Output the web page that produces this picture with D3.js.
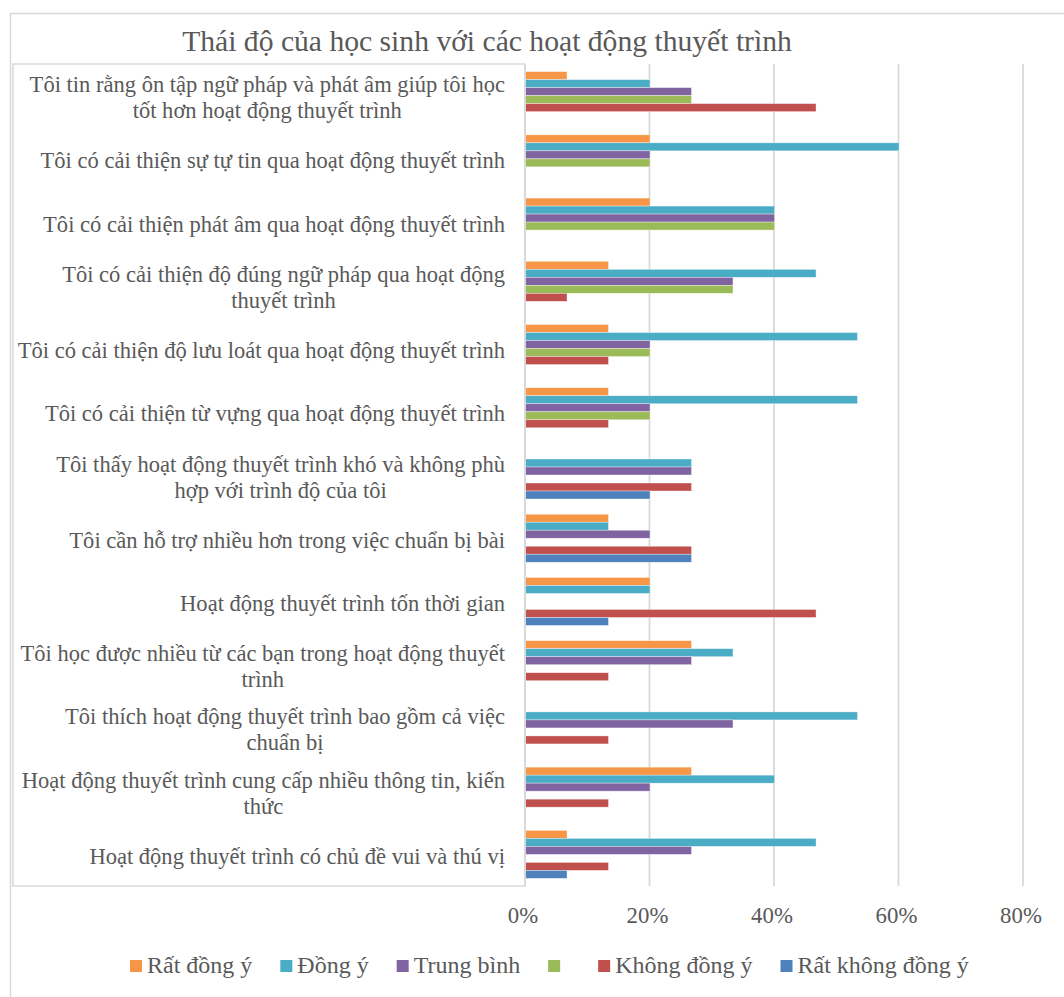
<!DOCTYPE html>
<html><head><meta charset="utf-8">
<script src="https://cdn.jsdelivr.net/npm/d3@7"></script>
<style>body{margin:0;background:#fff}svg{display:block}text{font-family:"Liberation Serif","Times New Roman",serif;fill:#595959}</style>
</head><body><svg id="c" width="1064" height="997"></svg>
<script>
const categories = [
  "Tôi tin rằng ôn tập ngữ pháp và phát âm giúp tôi học\ntốt hơn hoạt động thuyết trình",
  "Tôi có cải thiện sự tự tin qua hoạt động thuyết trình",
  "Tôi có cải thiện phát âm qua hoạt động thuyết trình",
  "Tôi có cải thiện độ đúng ngữ pháp qua hoạt động\nthuyết trình",
  "Tôi có cải thiện độ lưu loát qua hoạt động thuyết trình",
  "Tôi có cải thiện từ vựng qua hoạt động thuyết trình",
  "Tôi thấy hoạt động thuyết trình khó và không phù\nhợp với trình độ của tôi",
  "Tôi cần hỗ trợ nhiều hơn trong việc chuẩn bị bài",
  "Hoạt động thuyết trình tốn thời gian",
  "Tôi học được nhiều từ các bạn trong hoạt động thuyết\ntrình",
  "Tôi thích hoạt động thuyết trình bao gồm cả việc\nchuẩn bị",
  "Hoạt động thuyết trình cung cấp nhiều thông tin, kiến\nthức",
  "Hoạt động thuyết trình có chủ đề vui và thú vị"
];
const seriesNames = ["Rất đồng ý","Đồng ý","Trung bình","","Không đồng ý","Rất không đồng ý"];
const seriesColors = ["#F79646","#4BACC6","#8064A2","#9BBB59","#C0504D","#4F81BD"];
const ratDongY     = [6.67, 20, 20, 13.33, 13.33, 13.33, 0, 13.33, 20, 26.67, 0, 26.67, 6.67];
const dongY        = [20, 60, 40, 46.67, 53.33, 53.33, 26.67, 13.33, 20, 33.33, 53.33, 40, 46.67];
const trungBinh    = [26.67, 20, 40, 33.33, 20, 20, 26.67, 20, 0, 26.67, 33.33, 20, 26.67];
const xanhLa       = [26.67, 20, 40, 33.33, 20, 20, 0, 0, 0, 0, 0, 0, 0];
const khongDongY   = [46.67, 0, 0, 6.67, 13.33, 13.33, 26.67, 26.67, 46.67, 13.33, 13.33, 13.33, 13.33];
const ratKhongDongY= [0, 0, 0, 0, 0, 0, 20, 26.67, 13.33, 0, 0, 0, 6.67];
const xTicks = [0, 20, 40, 60, 80];
const title = "Thái độ của học sinh với các hoạt động thuyết trình";

const seriesValues = [ratDongY, dongY, trungBinh, xanhLa, khongDongY, ratKhongDongY];
const svg = d3.select("#c");
const grid = "#d9d9d9";

svg.append("rect").attr("x",10.5).attr("y",13.5).attr("width",1100).attr("height",1000)
  .attr("fill","#fff").attr("stroke",grid).attr("stroke-width",1.5);

const pL = 525, pR = 1023, pT = 64, pB = 886;
const x = d3.scaleLinear().domain([0,80]).range([pL,pR]);
const y = d3.scaleBand().domain(d3.range(categories.length)).range([pT,pB]);
const yi = d3.scaleBand().domain(d3.range(seriesNames.length)).range([0,y.bandwidth()]).paddingOuter(0.95);

svg.append("rect").attr("x",13).attr("y",pT).attr("width",pL-13).attr("height",pB-pT)
  .attr("fill","#fff").attr("stroke",grid).attr("stroke-width",1.5);

svg.append("g").selectAll("line").data(xTicks.slice(1)).join("line")
  .attr("x1",d=>x(d)).attr("x2",d=>x(d)).attr("y1",pT).attr("y2",pB)
  .attr("stroke",grid).attr("stroke-width",1.8);

const gs = svg.append("g").selectAll("g").data(categories).join("g")
  .attr("transform",(d,i)=>`translate(0,${y(i)})`);
gs.selectAll("rect").data((d,i)=>seriesValues.map((s,k)=>({k,v:s[i]}))).join("rect")
  .filter(d=>d.v>0)
  .attr("x",x(0)+0.5).attr("y",d=>yi(d.k)).attr("width",d=>x(d.v)-x(0)).attr("height",yi.bandwidth())
  .attr("fill",d=>seriesColors[d.k]).attr("stroke","rgba(255,255,255,0.6)").attr("stroke-width",0.6);

svg.append("line").attr("x1",pL).attr("x2",pL).attr("y1",pT).attr("y2",pB)
  .attr("stroke",grid).attr("stroke-width",1.8);

function sText(g, str, tx, ty, size, anchor, sx){
  return g.append("text").attr("transform",`translate(${tx},${ty}) scale(${sx},1)`)
    .attr("text-anchor",anchor).attr("font-size",size).text(str);
}

const lab = svg.append("g");
const LSX = 0.98;
categories.forEach((c,i)=>{
  const lines = c.split("\n");
  const cy = y(i)+y.bandwidth()/2 + 2;
  const lh = 26, fs = 23;
  const widths = lines.map(l=>{
    const t = lab.append("text").attr("font-size",fs).text(l);
    const w = t.node().getComputedTextLength()*LSX; t.remove(); return w;
  });
  const bw = d3.max(widths);
  const cx = 505 - bw/2;
  lines.forEach((l,j)=>{
    const ty = cy + (j-(lines.length-1)/2)*lh + 7.5;
    sText(lab, l, cx, ty, fs, "middle", LSX);
  });
});

const tk = svg.append("g");
xTicks.forEach(t=>sText(tk, t+"%", x(t)-2, 923, 24, "middle", 0.95));

sText(svg, title, 487, 51, 28.5, "middle", 1.04);

const lg = svg.append("g");
let lx = 130;
seriesNames.forEach((n,k)=>{
  lg.append("rect").attr("x",lx).attr("y",960).attr("width",12).attr("height",12).attr("fill",seriesColors[k]);
  lx += 17;
  let w = 5;
  if(n){ const t = sText(lg, n, lx, 973, 24, "start", 1.0); w = t.node().getComputedTextLength(); }
  lx += w + 28;
});
</script></body></html>
